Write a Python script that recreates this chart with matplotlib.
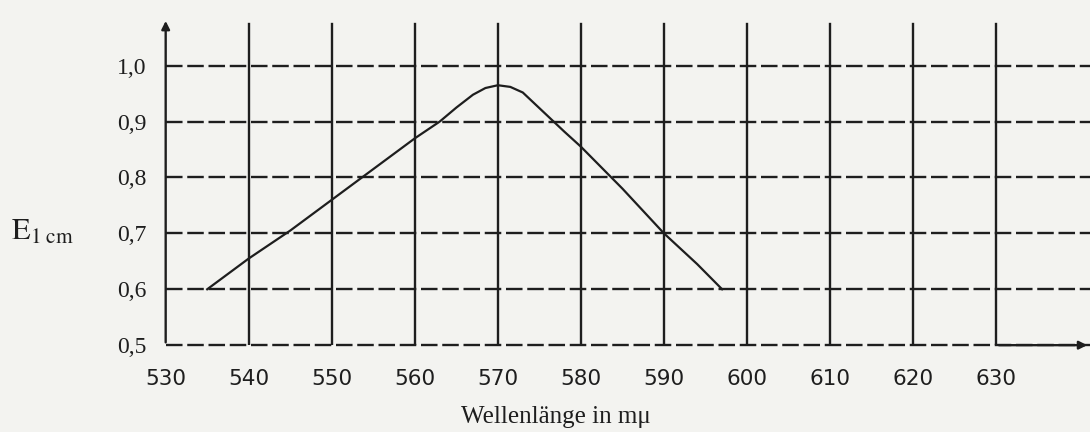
import matplotlib.pyplot as plt

wellenlaenge = [535, 540, 545, 550, 555, 560, 563, 565, 567, 568.5, 570, 571.5, 573, 574, 576, 578, 580, 585, 590, 594, 597]
extinktion = [0.60, 0.655, 0.705, 0.76, 0.815, 0.87, 0.90, 0.925, 0.948, 0.96, 0.965, 0.962, 0.952, 0.938, 0.91, 0.882, 0.855, 0.78, 0.70, 0.645, 0.60]

x_ticks = [530, 540, 550, 560, 570, 580, 590, 600, 610, 620, 630]
y_ticks = [0.5, 0.6, 0.7, 0.8, 0.9, 1.0]
y_labels = ["0,5", "0,6", "0,7", "0,8", "0,9", "1,0"]

paper = "#f3f3f0"
ink = "#1e1e1e"

plt.rcParams["font.family"] = ["Liberation Serif", "DejaVu Serif"]
plt.rcParams["mathtext.fontset"] = "stix"

fig = plt.figure(figsize=(10.9, 4.32), dpi=100, facecolor=paper)
ax = fig.add_axes([0.152, 0.201, 0.848, 0.757])
ax.set_facecolor(paper)
ax.set_xlim(530, 641.3)
ax.set_ylim(0.5, 1.085)

# Gitter
for y in y_ticks:
    ax.plot([530, 641.3], [y, y], color=ink, lw=1.7, dashes=(7, 2), clip_on=False)
for x in x_ticks[1:]:
    ax.plot([x, x], [0.5, 1.075], color=ink, lw=1.7)

# Achsen mit Pfeilen
ax.annotate("", xy=(530, 1.085), xytext=(530, 0.5),
            arrowprops=dict(arrowstyle="-|>", color=ink, lw=1.7, mutation_scale=12), annotation_clip=False)
ax.annotate("", xy=(641.3, 0.5), xytext=(630, 0.5),
            arrowprops=dict(arrowstyle="-|>", color=ink, lw=1.7, mutation_scale=12), annotation_clip=False)

# Kurve
ax.plot(wellenlaenge, extinktion, color=ink, lw=1.6)

for s in ax.spines.values():
    s.set_visible(False)
ax.set_xticks(x_ticks)
ax.set_yticks(y_ticks)
ax.set_yticklabels(y_labels)
ax.tick_params(length=0, labelsize=17, colors=ink)
ax.tick_params(axis="x", pad=17)
ax.tick_params(axis="y", pad=14)
for lbl in ax.get_xticklabels():
    lbl.set_fontfamily(["DejaVu Sans"])
    lbl.set_fontsize(15.5)

fig.text(0.51, 0.035, "Wellenlänge in mμ", ha="center", va="center", fontsize=18, color=ink)
fig.text(0.01, 0.463, r"$\mathrm{E}_{\mathrm{1\ cm}}$", ha="left", va="center", fontsize=22, color=ink)

plt.savefig("out.png", dpi=100, facecolor=paper)
